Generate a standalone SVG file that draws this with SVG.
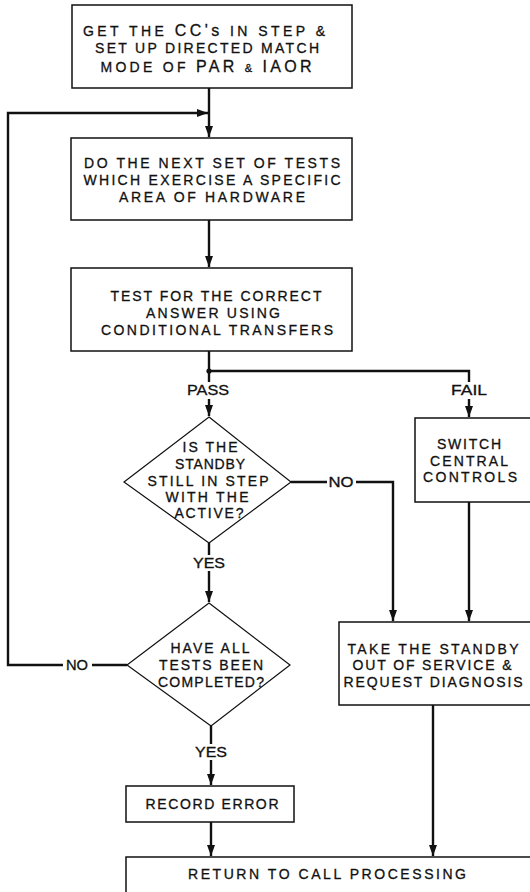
<svg xmlns="http://www.w3.org/2000/svg" width="530" height="892" viewBox="0 0 530 892">
<defs>
<marker id="ah" markerUnits="userSpaceOnUse" markerWidth="12" markerHeight="8" refX="11" refY="4" orient="auto">
<path d="M0,0 L11,4 L0,8 z" fill="#111"/>
</marker>
<style>
.box{fill:#fff;stroke:#111;stroke-width:1.5}
.dia{fill:#fff;stroke:#111;stroke-width:1.2}
.c{fill:none;stroke:#111;stroke-width:2.4}
.t{font-family:"Liberation Sans",Arial,sans-serif;font-size:14px;fill:#111;text-anchor:middle;stroke:#111;stroke-width:0.3}
.big{font-size:16px}
</style>
</defs>
<rect width="530" height="892" fill="#fff"/>

<g id="connectors">
<path class="c" d="M209,88 V137" marker-end="url(#ah)"/>
<path class="c" d="M127,665 H92"/>
<path class="c" d="M63,665 H8 V113 H208" marker-end="url(#ah)"/>
<path class="c" d="M209,220 V267" marker-end="url(#ah)"/>
<path class="c" d="M209,351 V382"/>
<circle cx="209" cy="371" r="2.6" fill="#111"/>
<path class="c" d="M209,399 V416" marker-end="url(#ah)"/>
<path class="c" d="M209,371 H469 V382"/>
<path class="c" d="M469,399 V417" marker-end="url(#ah)"/>
<path class="c" d="M209,543 V555"/>
<path class="c" d="M209,571 V602" marker-end="url(#ah)"/>
<path class="c" d="M291,482 H327"/>
<path class="c" d="M356,482 H393 V621" marker-end="url(#ah)"/>
<path class="c" d="M469,502 V621" marker-end="url(#ah)"/>
<path class="c" d="M211,726 V744"/>
<path class="c" d="M211,760 V785" marker-end="url(#ah)"/>
<path class="c" d="M211,822 V856" marker-end="url(#ah)"/>
<path class="c" d="M433,705 V856" marker-end="url(#ah)"/>
<text class="t" x="208" y="395" textLength="42" lengthAdjust="spacingAndGlyphs">PASS</text>
<text class="t" x="469" y="395" textLength="36" lengthAdjust="spacingAndGlyphs">FAIL</text>
<text class="t" x="341" y="487" textLength="25" lengthAdjust="spacingAndGlyphs">NO</text>
<text class="t" x="209" y="568" textLength="32" lengthAdjust="spacingAndGlyphs">YES</text>
<text class="t" x="77" y="670" textLength="22" lengthAdjust="spacingAndGlyphs">NO</text>
<text class="t" x="211" y="757" textLength="32" lengthAdjust="spacingAndGlyphs">YES</text>
</g>

<g id="n1">
<rect class="box" x="72" y="5" width="280" height="83"/>
<text class="t" x="204" y="36" textLength="242" lengthAdjust="spacing">GET THE <tspan class="big">CC's</tspan> IN STEP &amp;</text>
<text class="t" x="207" y="53" textLength="224" lengthAdjust="spacing">SET UP DIRECTED MATCH</text>
<text class="t" x="206" y="72" textLength="211" lengthAdjust="spacing">MODE OF <tspan class="big">PAR</tspan> <tspan font-size="11">&amp;</tspan> <tspan class="big">IAOR</tspan></text>
</g>

<g id="n2">
<rect class="box" x="71" y="138" width="281" height="82"/>
<text class="t" x="212" y="168" textLength="256" lengthAdjust="spacing">DO THE NEXT SET OF TESTS</text>
<text class="t" x="212" y="185" textLength="257" lengthAdjust="spacing">WHICH EXERCISE A SPECIFIC</text>
<text class="t" x="212" y="202" textLength="186" lengthAdjust="spacing">AREA OF HARDWARE</text>
</g>

<g id="n3">
<rect class="box" x="71" y="268" width="281" height="83"/>
<text class="t" x="216" y="301" textLength="211" lengthAdjust="spacing">TEST FOR THE CORRECT</text>
<text class="t" x="213" y="318" textLength="134" lengthAdjust="spacing">ANSWER USING</text>
<text class="t" x="217" y="335" textLength="232" lengthAdjust="spacing">CONDITIONAL TRANSFERS</text>
</g>

<g id="d1">
<polygon class="dia" points="209,417 291,482 209,543 124,482"/>
<text class="t" x="210" y="452" textLength="55" lengthAdjust="spacing">IS THE</text>
<text class="t" x="210" y="469" textLength="70" lengthAdjust="spacing">STANDBY</text>
<text class="t" x="208" y="486" textLength="121" lengthAdjust="spacing">STILL IN STEP</text>
<text class="t" x="207" y="502" textLength="83" lengthAdjust="spacing">WITH THE</text>
<text class="t" x="209" y="518" textLength="69" lengthAdjust="spacing">ACTIVE?</text>
</g>

<g id="n4">
<rect class="box" x="415" y="418" width="120" height="84"/>
<text class="t" x="469" y="449" textLength="64" lengthAdjust="spacing">SWITCH</text>
<text class="t" x="469" y="466" textLength="78" lengthAdjust="spacing">CENTRAL</text>
<text class="t" x="470" y="482" textLength="94" lengthAdjust="spacing">CONTROLS</text>
</g>

<g id="d2">
<polygon class="dia" points="209,603 290,665 211,726 127,665"/>
<text class="t" x="210" y="653" textLength="79" lengthAdjust="spacing">HAVE ALL</text>
<text class="t" x="211" y="670" textLength="104" lengthAdjust="spacing">TESTS BEEN</text>
<text class="t" x="211" y="687" textLength="106" lengthAdjust="spacing">COMPLETED?</text>
</g>

<g id="n5">
<rect class="box" x="339" y="622" width="196" height="83"/>
<text class="t" x="433" y="654" textLength="171" lengthAdjust="spacing">TAKE THE STANDBY</text>
<text class="t" x="432" y="670" textLength="159" lengthAdjust="spacing">OUT OF SERVICE &amp;</text>
<text class="t" x="433" y="687" textLength="179" lengthAdjust="spacing">REQUEST DIAGNOSIS</text>
</g>

<g id="n6">
<rect class="box" x="126" y="786" width="168" height="36"/>
<text class="t" x="212" y="809" textLength="133" lengthAdjust="spacing">RECORD ERROR</text>
</g>

<g id="n7">
<rect class="box" x="126" y="857" width="410" height="45"/>
<text class="t" x="327" y="879" textLength="278" lengthAdjust="spacing">RETURN TO CALL PROCESSING</text>
</g>
</svg>
